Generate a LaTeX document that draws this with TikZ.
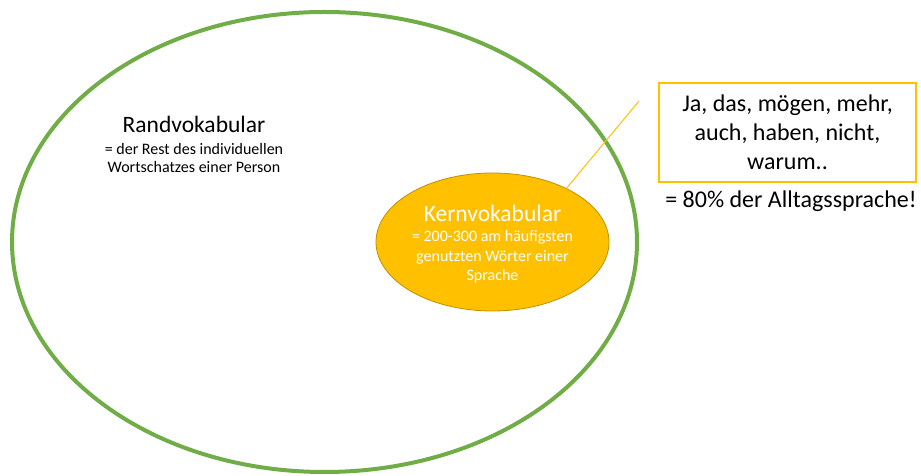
\documentclass[tikz,border=0pt]{standalone}
\usepackage{fontspec}
\setmainfont{Carlito}
\usetikzlibrary{positioning,shapes.geometric}
\definecolor{gruen}{HTML}{70AD47}
\definecolor{gelb}{HTML}{FFC000}
\definecolor{gold}{HTML}{BF9000}
\tikzset{
  randkreis/.style={ellipse,draw=gruen,line width=4pt,inner sep=0pt,minimum width=625pt,minimum height=460pt},
  kernkreis/.style={ellipse,draw=gold,line width=0.8pt,fill=gelb,inner sep=0pt,minimum width=233pt,minimum height=138pt},
  kasten/.style={draw=gelb,line width=1.2pt,inner sep=0pt,minimum width=257pt,minimum height=99pt,align=center,
                 font=\fontsize{24}{29}\selectfont},
  titel/.style={anchor=base,inner sep=0pt,font=\fontsize{23.5}{28}\selectfont},
  klein/.style={anchor=base,inner sep=0pt,align=center,font=\fontsize{16}{18}\selectfont},
  verbinder/.style={draw=gelb,line width=1pt},
}
\begin{document}
\begin{tikzpicture}[x=1pt,y=1pt]
  \useasboundingbox (0,0) rectangle (921,476);
  \node[randkreis] (rand) at (324.5,234) {};
  \node[kernkreis] (kern) at (492.5,234) {};
  % Randvokabular (base = letzte Zeile)
  \node[titel] (randtitel) at (194,343) {Randvokabular};
  \node[klein] (randtext) at (194,303) {= der Rest des individuellen\\Wortschatzes einer Person};
  % Kernvokabular
  \node[titel,text=white] (kerntitel) at (492.5,254) {Kernvokabular};
  \node[klein,text=white,font=\fontsize{16}{19.5}\selectfont] (kerntext) at (492.5,195)
    {= 200-300 am häufigsten\\genutzten Wörter einer\\Sprache};
  % Beispiele
  \node[kasten] (woerter) at (787.5,343.5) {Ja, das, mögen, mehr,\\auch, haben, nicht,\\warum..};
  \node[titel,font=\fontsize{24}{29}\selectfont] (anteil) at (791,268) {= 80\% der Alltagssprache!};
  \coordinate (linienende) at (639,375);
  \draw[verbinder] (kern.36) -- (linienende);
\end{tikzpicture}
\end{document}
